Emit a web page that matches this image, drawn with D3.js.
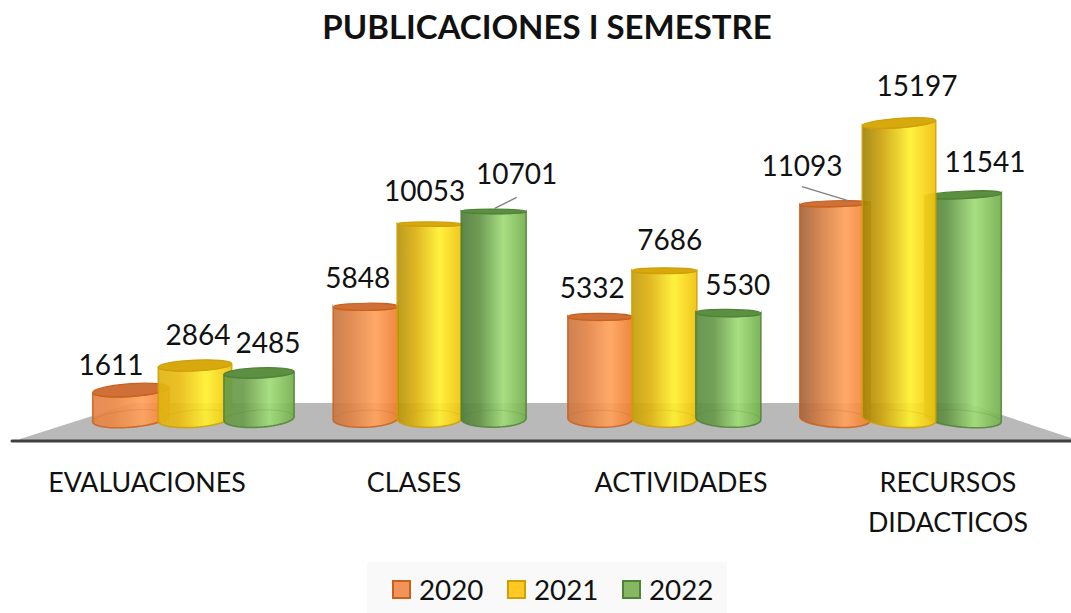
<!DOCTYPE html>
<html><head><meta charset="utf-8">
<script src="https://cdn.jsdelivr.net/npm/d3@7/dist/d3.min.js"></script>
<style>html,body{margin:0;padding:0;background:#fff}svg{display:block}text{font-family:Lato,"Noto Sans",sans-serif;fill:#111}</style>
</head><body><svg id="c" width="1071" height="613"></svg>
<script>
const categories = ["EVALUACIONES","CLASES","ACTIVIDADES","RECURSOS DIDACTICOS"];
const years = ["2020","2021","2022"];
const values2020 = [1611,5848,5332,11093];
const values2021 = [2864,10053,7686,15197];
const values2022 = [2485,10701,5530,11541];
const title = "PUBLICACIONES I SEMESTRE";

// presentation only
const seriesValues=[values2020,values2021,values2022];
const palette=[
 {dark:"#8f5a38",soft:"#ee8a48",light:"#ffa25c",edge:"#ee7c30",line:"#c9601c",cap:"#cf7038",swatch:"#f2935a"},
 {dark:"#a08208",soft:"#f0c014",light:"#fff02e",edge:"#f0c00a",line:"#cf9f08",cap:"#d8a90e",swatch:"#ffc822"},
 {dark:"#477336",soft:"#6ea04c",light:"#a0dc78",edge:"#74ae4c",line:"#508336",cap:"#5b8f42",swatch:"#86b864"}];
const labelOffsets=[
 [[-20,-25],[3,-30],[9,-30]],
 [[-8,-29],[-5,-33],[23,-37]],
 [[-8,-29],[5.5,-31],[9.5,-28]],
 [[-33,-38],[18,-37],[22,-33]]];
const leaders={"1,2":[[0,23],[1,-3]],"3,0":[[0,21],[13,-3]]};

const svg=d3.select("#c");
const defs=svg.append("defs");
const y=d3.scaleLinear().domain([0,15197]).range([421.7,123]);
const catX=d3.scalePoint().domain(categories).range([195,899]);
const barX=d3.scalePoint().domain(years).range([-64,64]);
const axisX=d3.scaleBand().domain(categories).range([13.5,1081.5]);
const midX=546;

svg.append("text").attr("x",547).attr("y",39).attr("text-anchor","middle")
 .attr("font-size",33).attr("font-weight",700).text(title);

// floor and axis line
svg.append("path").attr("d","M20,439L133,403L966,403L1071,438L1071,440L20,440Z").attr("fill","#b9b9b9");
svg.append("line").attr("x1",12).attr("x2",1071).attr("y1",441).attr("y2",441)
 .attr("stroke","#404040").attr("stroke-width",3).attr("stroke-linecap","round");

const bars=[];
categories.forEach((cat,c)=>years.forEach((yr,s)=>{
 const v=seriesValues[s][c], cx=catX(cat)+barX(yr), dist=Math.abs(cx-midX);
 const w=65+Math.max(0,dist-180)*0.05;
 bars.push({c,s,cat,yr,v,cx,w});
}));
// right-hand group: the middle cylinder sits in front of both neighbours
const rank=d=>d.c===3?[0,2,1][d.s]:d.s;
bars.sort((a,b)=>(a.c-b.c)||(rank(a)-rank(b)));

// half-ellipse outline, from angle t0 to t1, tilted by a
const arc=(cx,cy,rx,ry,a,t0,t1)=>d3.range(0,25).map(k=>{
 const t=t0+(t1-t0)*k/24, ex=rx*Math.cos(t), ey=ry*Math.sin(t);
 return [cx+ex*Math.cos(a)-ey*Math.sin(a), cy+ex*Math.sin(a)+ey*Math.cos(a)];
});
const line=d3.line();
const PI=Math.PI;

const g=svg.append("g");
bars.forEach((d,i)=>{
 const p=palette[d.s], id="grad"+i, t=d.v/15197;
 const gr=defs.append("linearGradient").attr("id",id);
 [[0,d3.interpolateRgb(p.soft,p.dark)(Math.min(1,t*1.1))],[.28,d3.interpolateRgb(p.soft,p.dark)(t*.4)],[.65,p.light],[1,p.edge]]
  .forEach(([o,col])=>gr.append("stop").attr("offset",o).attr("stop-color",col));
 const rx=d.w/2, lean=(d.cx-midX)/415;
 const aBot=lean*5*PI/180, aTop=lean*5*(1-2*t)*PI/180;
 const ryTop=(3+Math.abs(d.v-10000)/10000*4)*(0.7+0.3*lean*lean), ryBot=8.5;
 const ty=y(d.v), by=y(0)-3;
 const node=g.append("g");
 const body=[...arc(d.cx,ty,rx,ryTop,aTop,PI,0),...arc(d.cx,by,rx,ryBot,aBot,0,PI)];
 node.append("path").attr("d",line(body)+"Z")
  .attr("fill",`url(#${id})`).attr("fill-opacity",.92).attr("stroke",p.line).attr("stroke-width",1.6).attr("stroke-opacity",.85);
 // rear rim of the base seen through the wall
 node.append("path").attr("d",line(arc(d.cx,by,rx,ryBot,aBot,PI,2*PI)))
  .attr("fill","none").attr("stroke",p.line).attr("stroke-opacity",.25);
 node.append("ellipse").attr("cx",d.cx).attr("cy",ty).attr("rx",rx).attr("ry",ryTop)
  .attr("transform",`rotate(${aTop*180/PI} ${d.cx} ${ty})`)
  .attr("fill",p.cap).attr("stroke",p.line).attr("stroke-width",1.2);
});

const lab=svg.append("g");
bars.forEach(d=>{
 const [dx,dy]=labelOffsets[d.c][d.s];
 const lx=d.cx+dx, ly=y(d.v)+dy;
 lab.append("text").attr("x",lx).attr("y",ly).attr("dy","0.36em")
  .attr("text-anchor","middle").attr("font-size",28).text(d.v);
 const lead=leaders[d.c+","+d.s];
 if(lead) lab.append("line").attr("x1",lx+lead[0][0]).attr("y1",ly+lead[0][1])
  .attr("x2",d.cx+lead[1][0]).attr("y2",y(d.v)+lead[1][1])
  .attr("stroke","#7f7f7f").attr("stroke-width",1.3);
});

// category labels
const axisG=svg.append("g").attr("transform","translate(0,442)")
 .call(d3.axisBottom(axisX).tickSize(0));
axisG.select(".domain").remove();
axisG.selectAll(".tick text").each(function(d){
 const sel=d3.select(this).text(null).attr("font-size",26.8).attr("y",0).attr("dy",0).style("font-family",null);
 d.split(" ").forEach((wd,i)=>sel.append("tspan").attr("x",0).attr("y",49.5+i*40).text(wd));
});

// legend
svg.append("rect").attr("x",367).attr("y",562).attr("width",360).attr("height",51).attr("fill","#f9f9f9");
const legX=d3.scalePoint().domain(years).range([393,623]);
years.forEach((yr,s)=>{
 const p=palette[s], x0=legX(yr);
 svg.append("rect").attr("x",x0).attr("y",581).attr("width",17).attr("height",17)
  .attr("fill",p.swatch).attr("stroke",p.line).attr("stroke-width",2);
 svg.append("text").attr("x",x0+26).attr("y",599.5).attr("font-size",27.8).text(yr);
});
</script></body></html>
